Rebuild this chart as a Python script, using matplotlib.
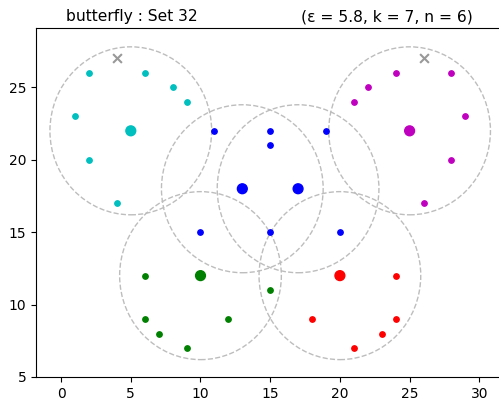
import matplotlib
matplotlib.use("Agg")
import matplotlib.pyplot as plt
from matplotlib.patches import Circle

eps = 5.8

# cluster centres (big dots) and colours
centers_x = [5, 25, 13, 17, 10, 20]
centers_y = [22, 22, 18, 18, 12, 12]
colors = ['c', 'm', 'b', 'b', 'g', 'r']

# member points per colour
cyan_x = [2, 6, 8, 9, 1, 2, 4]
cyan_y = [26, 26, 25, 24, 23, 20, 17]
magenta_x = [24, 22, 21, 28, 29, 28, 26]
magenta_y = [26, 25, 24, 26, 23, 20, 17]
blue_x = [11, 15, 15, 19, 10, 15, 20]
blue_y = [22, 22, 21, 22, 15, 15, 15]
green_x = [6, 6, 7, 9, 12, 15]
green_y = [12, 9, 8, 7, 9, 11]
red_x = [24, 18, 24, 23, 21]
red_y = [12, 9, 9, 8, 7]

# noise points
noise_x = [4, 26]
noise_y = [27, 27]

fig = plt.figure(figsize=(4.99, 3.99), dpi=100)
ax = fig.add_axes([36/499, 22/399, 467/499, 349/399])

for cx, cy in zip(centers_x, centers_y):
    ax.add_patch(Circle((cx, cy), eps, fill=False, ls='--', lw=1, color='#bdbdbd'))

ax.scatter(cyan_x, cyan_y, s=15, c='c', zorder=3)
ax.scatter(magenta_x, magenta_y, s=15, c='m', zorder=3)
ax.scatter(blue_x, blue_y, s=15, c='b', zorder=3)
ax.scatter(green_x, green_y, s=15, c='g', zorder=3)
ax.scatter(red_x, red_y, s=15, c='r', zorder=3)
ax.scatter(centers_x, centers_y, s=50, c=colors, zorder=4)
ax.scatter(noise_x, noise_y, s=40, marker='x', c='#999999', zorder=3)

ax.set_xlim(-1.8, 31.7)
ax.set_ylim(5, 29.1)
ax.set_xticks([0, 5, 10, 15, 20, 25, 30])
ax.set_yticks([5, 10, 15, 20, 25])

fig.text(66/499, 1 - 17/399, "butterfly : Set 32", fontsize=11.2, ha='left', va='center')
fig.text(473/499, 1 - 17/399, "(ε = 5.8, k = 7, n = 6)", fontsize=11.2, ha='right', va='center')

fig.savefig("out.png", dpi=100)
